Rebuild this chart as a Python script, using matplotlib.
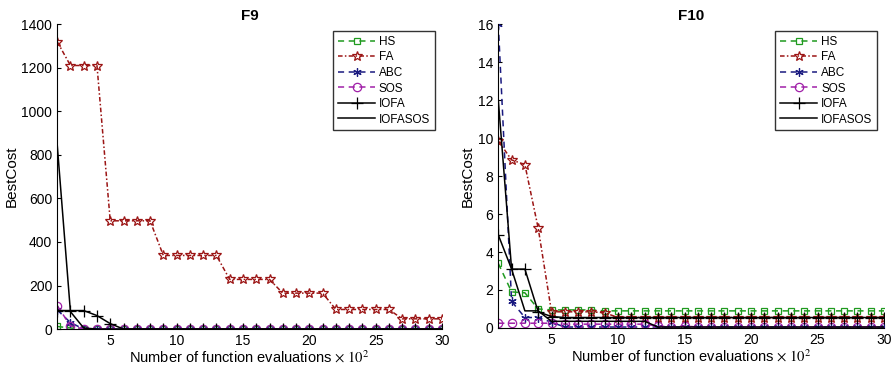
import numpy as np
import matplotlib
matplotlib.use('Agg')
import matplotlib.pyplot as plt

plt.rcParams['font.family'] = ['Liberation Sans', 'DejaVu Sans']
plt.rcParams['mathtext.fontset'] = 'stix'

# x axis: function evaluations (x 100)
iters = np.arange(1, 31)
algos = ['HS', 'FA', 'ABC', 'SOS', 'IOFA', 'IOFASOS']

# F9 convergence curves
f9_hs = [12, 5] + [0] * 28
f9_fa = [1320, 1210, 1210, 1210, 497, 497, 497, 497, 338, 338, 338, 338, 338,
         228, 228, 228, 228, 165, 165, 165, 165, 90, 90, 90, 90, 90, 47, 47, 47, 47]
f9_abc = [88, 30] + [0] * 28
f9_sos = [108, 15] + [0] * 28
f9_iofa = [85, 85, 85, 62, 25] + [0] * 25
f9_iofasos = [850, 80, 5] + [0] * 27

# F10 convergence curves
f10_hs = [3.4, 1.9, 1.85, 1.0, 0.95, 0.95, 0.95, 0.95] + [0.9] * 22
f10_fa = [9.85, 8.85, 8.6, 5.25, 0.85, 0.85, 0.85, 0.85, 0.8] + [0.55] * 21
f10_abc = [16, 1.4, 0.55, 0.55, 0.3] + [0.05] * 25
f10_sos = [0.25, 0.25, 0.25, 0.25, 0.25, 0.2, 0.2, 0.2, 0.2, 0.2, 0.2, 0.2, 0.1,
           0.05, 0.1] + [0.05] * 15
f10_iofa = [4.9, 3.1, 3.1, 0.85, 0.6] + [0.55] * 25
f10_iofasos = [12, 3.1, 0.9, 0.9, 0.35, 0.35, 0.35, 0.35, 0.35, 0.35, 0.35, 0.35] + [0.05] * 18

styles = [
    dict(color='#1f9a1f', dashes=(4, 3), marker='s', mfc='none', ms=5),
    dict(color='#9b1414', dashes=(3, 1.5, 1, 1.5), marker='*', mfc='none', ms=7),
    dict(color='#1a1a80', dashes=(4, 3), marker=(6, 2, 0), ms=6),
    dict(color='#a020a8', dashes=(4, 3), marker='o', mfc='none', ms=6),
    dict(color='black', ls='-', marker='+', ms=8),
    dict(color='black', ls='-', marker=None),
]

fig = plt.figure(figsize=(8.93, 3.71), dpi=100)
ax1 = fig.add_axes([0.064, 0.113, 0.431, 0.822])
ax2 = fig.add_axes([0.558, 0.116, 0.432, 0.819])

data = [
    (ax1, 'F9', [f9_hs, f9_fa, f9_abc, f9_sos, f9_iofa, f9_iofasos], 1400, 200),
    (ax2, 'F10', [f10_hs, f10_fa, f10_abc, f10_sos, f10_iofa, f10_iofasos], 16, 2),
]

for ax, title, series, ymax, ystep in data:
    for name, y, st in zip(algos, series, styles):
        ax.plot(iters, y, label=name, lw=1.1, mew=0.9, **st)
    ax.set_xlim(1, 30)
    ax.set_ylim(0, ymax)
    ax.set_xticks([5, 10, 15, 20, 25, 30])
    ax.set_yticks(np.arange(0, ymax + 1, ystep))
    ax.spines['top'].set_visible(False)
    ax.spines['right'].set_visible(False)
    ax.tick_params(direction='in', labelsize=10, length=3)
    ax.set_title(title, fontsize=11, fontweight='bold', pad=3)
    ax.set_ylabel('BestCost', fontsize=11, labelpad=2)
    ax.set_xlabel(r'Number of function evaluations $\times\ 10^2$', fontsize=10.5, labelpad=1)
    leg = ax.legend(loc='upper right', fontsize=8.5, frameon=True, fancybox=False,
                    edgecolor='black', handlelength=3.2, borderaxespad=0.6,
                    labelspacing=0.3, handletextpad=0.3, borderpad=0.4)
    leg.get_frame().set_linewidth(1.0)

fig.savefig('out.png', dpi=100)
